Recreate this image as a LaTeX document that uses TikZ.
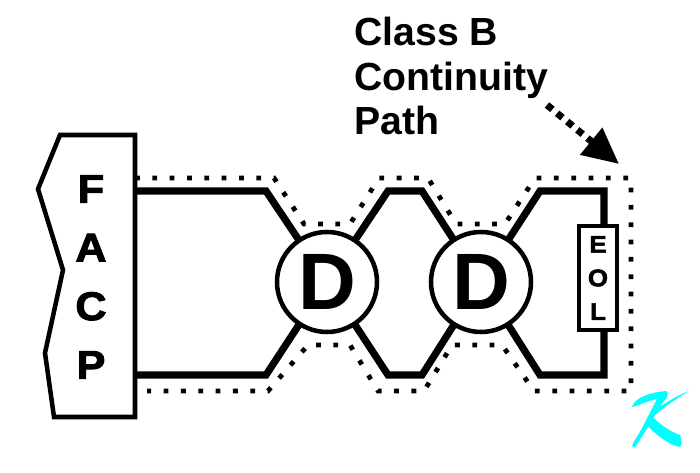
\documentclass[tikz,border=0pt]{standalone}
\usepackage{fontspec}
\setmainfont{Liberation Sans}
\newfontface\heavyfont[FakeBold=2.4,FakeStretch=1.08]{Liberation Sans Bold}
\definecolor{sigcyan}{RGB}{0,255,255}
\usetikzlibrary{arrows.meta, positioning}

\begin{document}
\begin{tikzpicture}[
    x=0.75pt, y=-0.75pt,
    wire/.style={line width=5.4pt, line join=miter},
    path dots/.style={line width=3.6pt, dash pattern=on 3.6pt off 9.4pt},
    device/.style={circle, draw, fill=white, line width=3.4pt, minimum size=75pt, inner sep=0pt, outer sep=0pt, font=\fontsize{60}{60}\selectfont\bfseries},
    panel/.style={font=\fontsize{30}{44}\heavyfont, align=center, inner sep=0pt},
    eol/.style={rectangle, draw, fill=white, line width=3pt, minimum width=29pt, minimum height=78pt, inner sep=0pt, outer sep=0pt, font=\fontsize{18}{25.2}\heavyfont, align=center}
]
\useasboundingbox (0,0) rectangle (700,473);

% Panel outline
\draw[line width=3.4pt, line join=miter] (60,135) -- (135,135) -- (135,417) -- (54,417) -- (45,353) -- (63,270) -- (38,189) -- cycle;
\node[panel] (facp) at (91,277) {F\\A\\C\\P};
\coordinate (facpt) at (135,191);
\coordinate (facpb) at (135,375);

% Devices
\node[device] (d1) at (327,282) {D};
\node[device] (d2) at (481,282) {D};
\node[eol] (res) at (598,278) {E\\O\\L};

% Wires
\draw[wire] (facpt) -- (266,191) -- (d1);
\draw[wire] (facpb) -- (266,375) -- (d1);
\draw[wire] (d1) -- (388,191) -- (422,191) -- (d2);
\draw[wire] (d1) -- (388,375) -- (422,375) -- (d2);
\draw[wire] (d2) -- (540,191) -- (604,191) -- (604,224);
\draw[wire] (d2) -- (540,375) -- (604,375) -- (604,332);

% Continuity path
\draw[path dots] (135,178) -- (274,178) -- (304,224) -- (350,224) -- (379,178) -- (428,178) -- (456,224) -- (505,224) -- (535,178) -- (631,178) -- (631,391) -- (534,391) -- (502,345) -- (452,345) -- (424,391) -- (378,391) -- (350,345) -- (308,345) -- (268,391) -- (147,391);

% Label and arrow
\node[font=\fontsize{29.4}{33.4}\selectfont\bfseries, align=left, inner sep=0pt, anchor=north west] (lbl) at (354,17) {Class B\\Continuity\\Path};
\coordinate (arrstart) at (547,105);
\coordinate (arrend) at (619,164);
\draw[line width=5.2pt, dash pattern=on 5.2pt off 4.6pt, -{Triangle[length=27pt, width=25pt]}] (arrstart) -- (arrend);

% Signature
\fill[sigcyan] (632,407) .. controls (634,398) and (650,392) .. (667,391) .. controls (669,395) and (667,398) .. (664,401) .. controls (654,415) and (644,435) .. (635,447) .. controls (632,448) and (632,446) .. (633,443) .. controls (642,430) and (650,412) .. (657,399) .. controls (650,400) and (640,405) .. (632,407) -- cycle;
\fill[sigcyan] (689,391) .. controls (676,399) and (660,410) .. (653,417) .. controls (662,427) and (674,433) .. (680,435) .. controls (682,440) and (682,445) .. (680,447) .. controls (668,445) and (654,433) .. (646,424) .. controls (645,418) and (650,414) .. (655,410) .. controls (665,403) and (678,395) .. (689,391) -- cycle;
\end{tikzpicture}
\end{document}
